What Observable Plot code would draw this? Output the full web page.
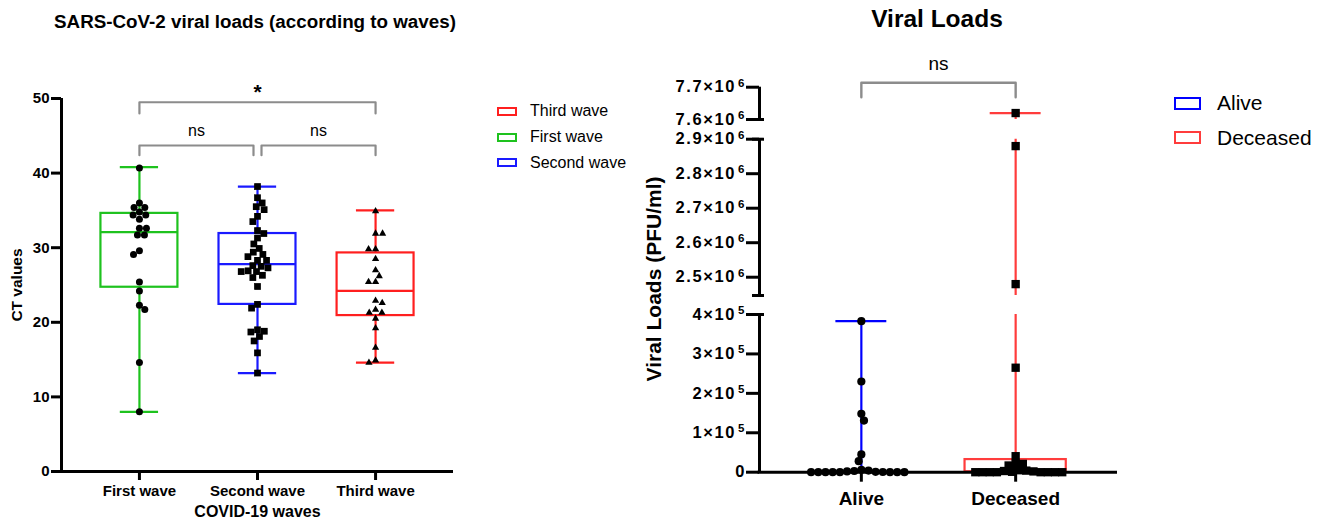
<!DOCTYPE html>
<html><head><meta charset="utf-8">
<script src="https://cdn.jsdelivr.net/npm/d3@7"></script>
<script src="https://cdn.jsdelivr.net/npm/@observablehq/plot@0.6"></script>
<style>
body{margin:0;background:#fff;font-family:"Liberation Sans",Arial,sans-serif;color:#000;}
#root{position:relative;width:1327px;height:526px;overflow:hidden;background:#fff;}
.abs{position:absolute;white-space:nowrap;line-height:1.15;}
.chart{position:absolute;top:0;}
.sw{position:absolute;box-sizing:border-box;}
</style></head><body><div id="root"></div>
<script>
// ---------- DATA: left panel (CT values by COVID-19 wave) ----------
const waves = ["First wave", "Second wave", "Third wave"];
const waveColors = ["#1ec21e", "#1a1aff", "#ff1f1f"];
const waveLegendOrder = ["Third wave", "First wave", "Second wave"];
const firstWave = [40.7, 36.0, 35.4, 35.4, 34.8, 34.4, 34.4, 33.8, 32.6, 32.6, 31.7, 31.7, 29.6, 29.1, 25.4, 24.2, 22.3, 21.7, 14.6, 8.0];
const secondWave = [38.2, 36.7, 36.0, 35.5, 35.1, 34.2, 33.5, 32.3, 31.9, 31.3, 30.5, 29.9, 29.4, 29.1, 28.8, 28.3, 28.3, 27.6, 27.5, 27.3, 26.9, 26.8, 26.8, 26.3, 26.0, 24.8, 22.4, 21.9, 19.0, 18.8, 18.7, 18.1, 17.5, 15.9, 13.2];
const thirdWave = [34.9, 31.9, 31.9, 29.8, 29.8, 28.5, 27.0, 26.2, 25.4, 25.4, 22.9, 22.6, 21.7, 21.3, 21.3, 20.5, 19.2, 16.6, 14.9, 14.6];
const waveQ1 = [24.7, 22.4, 20.9];
const waveMedian = [32.1, 27.8, 24.2];
const waveQ3 = [34.6, 31.9, 29.3];
const waveMin = [8.0, 13.2, 14.6];
const waveMax = [40.8, 38.2, 35.0];
const ctTicks = [0, 10, 20, 30, 40, 50];
const waveComparisons = [["First wave", "Third wave", "*"], ["First wave", "Second wave", "ns"], ["Second wave", "Third wave", "ns"]];

// ---------- DATA: right panel (viral loads by outcome) ----------
const outcomes = ["Alive", "Deceased"];
const outcomeColors = ["#0000ff", "#ff3c3c"];
const aliveLoads = [383000, 230000, 148000, 131000, 45000, 28000, 6000, 4000, 3000, 2000, 1000, 500, 0, 0, 0, 0, 0, 0, 0, 0];
const deceasedLoads = [7620000, 2880000, 2480000, 265000, 40600, 21000, 21000, 17000, 5000, 4000, 3000, 2000, 1000, 0, 0, 0, 0, 0, 0, 0, 0];
const outcomeQ1 = [0, 0];
const outcomeMedian = [0, 2000];
const outcomeQ3 = [0, 32000];
const outcomeMin = [0, 0];
const outcomeMax = [383000, 7620000];
const loadSegments = [[0, 400000], [2447000, 2900000], [7600000, 7700000]];
const loadTicks = [[0, 100000, 200000, 300000, 400000], [2500000, 2600000, 2700000, 2800000, 2900000], [7600000, 7700000]];
const outcomeComparisons = [["Alive", "Deceased", "ns"]];

// ---------- helpers ----------
const FONT = '"Liberation Sans", Arial, sans-serif';
const root = document.getElementById("root");

function dodge(values, toPx, D) {
  const placed = [];
  let s = 1;
  return values.map(v => {
    const y = toPx(v);
    const cands = [0];
    for (const p of placed) {
      const dy = y - p.y;
      if (Math.abs(dy) < D) { const dx = Math.sqrt(D * D - dy * dy); cands.push(p.x + dx, p.x - dx); }
    }
    cands.sort((a, b) => { const d = Math.abs(a) - Math.abs(b); return Math.abs(d) > 1e-6 ? d : s * (b - a); });
    let x = 0;
    for (const c of cands) {
      if (placed.every(p => (c - p.x) ** 2 + (y - p.y) ** 2 >= D * D - 1e-6)) { x = c; break; }
    }
    if (Math.abs(x) > 1e-6) s = -s;
    placed.push({x, y});
    return x;
  });
}
function bracketPath(id, x1, x2, top, leg) {
  return [{id, x: x1, y: leg}, {id, x: x1, y: top}, {id, x: x2, y: top}, {id, x: x2, y: leg}];
}
function addText(text, x, y, css, anchor) {
  const d = document.createElement("div");
  d.className = "abs";
  d.textContent = text;
  d.style.left = x + "px";
  d.style.top = y + "px";
  d.style.transform = anchor || "translate(-50%,-50%)";
  Object.assign(d.style, css || {});
  root.appendChild(d);
  return d;
}
function addSwatch(x, y, w, h, color, bw) {
  const d = document.createElement("div");
  d.className = "sw";
  Object.assign(d.style, {left: x + "px", top: (y - h / 2) + "px", width: w + "px", height: h + "px", border: `${bw}px solid ${color}`});
  root.appendChild(d);
}

// ================= LEFT PANEL =================
const L = {width: 480, x0: 61, x1: 453, y0: 98, y1: 471};
const leftDomain = [0.34, 3.66];
const leftStep = (L.x1 - L.x0) / (leftDomain[1] - leftDomain[0]);
const ctPx = (L.y1 - L.y0) / 50;

const leftPoints = [];
[firstWave, secondWave, thirdWave].forEach((vals, k) => {
  const offs = dodge(vals, v => v * ctPx, 7);
  vals.forEach((v, j) => leftPoints.push({wave: waves[k], pos: k + 1, ct: v, xj: k + 1 + offs[j] / leftStep}));
});
const waveBoxes = waves.map((w, k) => ({wave: w, pos: k + 1, q1: waveQ1[k], median: waveMedian[k], q3: waveQ3[k], min: waveMin[k], max: waveMax[k]}));
const boxHalf = 0.326, capHalf = 0.162;
const boxStyle = {stroke: "wave", strokeWidth: 2.2};

// significance annotation levels (CT units)
const wPos = w => waves.indexOf(w) + 1;
const gap = 4 / leftStep;
const leftAnn = waveComparisons.map(([a, b, lab], i) => {
  const x1 = wPos(a) + (i === 2 ? gap : 0), x2 = wPos(b) - (i === 1 ? gap : 0);
  const top = i === 0 ? 49.5 : 43.7, leg = i === 0 ? 48.0 : 42.4, ty = i === 0 ? 50.9 : 45.6;
  return {id: i, x1, x2, top, leg, ty, label: lab};
});
const leftBracketPts = leftAnn.flatMap(d => bracketPath(d.id, d.x1, d.x2, d.top, d.leg));

const leftChart = Plot.plot({
  width: L.width, height: 526,
  marginLeft: L.x0, marginRight: L.width - L.x1, marginTop: L.y0, marginBottom: 526 - L.y1,
  x: {domain: leftDomain},
  y: {domain: [0, 50]},
  color: {domain: waves, range: waveColors},
  style: {background: "transparent", overflow: "visible", fontFamily: FONT, color: "#000"},
  marks: [
    Plot.rect(waveBoxes, {x1: d => d.pos - boxHalf, x2: d => d.pos + boxHalf, y1: "q1", y2: "q3", fill: "none", ...boxStyle}),
    Plot.ruleY(waveBoxes, {y: "median", x1: d => d.pos - boxHalf, x2: d => d.pos + boxHalf, ...boxStyle}),
    Plot.ruleX(waveBoxes, {x: "pos", y1: "min", y2: "q1", ...boxStyle}),
    Plot.ruleX(waveBoxes, {x: "pos", y1: "q3", y2: "max", ...boxStyle}),
    Plot.ruleY(waveBoxes, {y: "min", x1: d => d.pos - capHalf, x2: d => d.pos + capHalf, ...boxStyle}),
    Plot.ruleY(waveBoxes, {y: "max", x1: d => d.pos - capHalf, x2: d => d.pos + capHalf, ...boxStyle}),
    Plot.dot(leftPoints.filter(d => d.pos === 1), {x: "xj", y: "ct", r: 3.5, symbol: "circle", fill: "black"}),
    Plot.dot(leftPoints.filter(d => d.pos === 2), {x: "xj", y: "ct", r: 3.8, symbol: "square", fill: "black"}),
    Plot.dot(leftPoints.filter(d => d.pos === 3), {x: "xj", y: "ct", r: 2.7, symbol: "triangle", fill: "black"}),
    Plot.ruleX([leftDomain[0]], {y1: 0, y2: 50, strokeWidth: 3, stroke: "black"}),
    Plot.ruleY([0], {x1: leftDomain[0] - 1.5 / leftStep, x2: leftDomain[1], strokeWidth: 3, stroke: "black"}),
    Plot.axisY({ticks: ctTicks, tickSize: 10, tickPadding: 2, strokeWidth: 3, fontSize: 15, fontWeight: "bold", label: null}),
    Plot.axisX({ticks: [1, 2, 3], tickFormat: d => waves[d - 1], tickSize: 9, tickPadding: 5, strokeWidth: 3, fontSize: 15, fontWeight: "bold", label: null}),
    Plot.text(["COVID-19 waves"], {text: d => d, frameAnchor: "bottom", dy: 45, fontSize: 16, fontWeight: "bold"}),
    Plot.line(leftBracketPts, {x: "x", y: "y", z: "id", stroke: "#8c8c8c", strokeWidth: 2.2}),
    Plot.text(leftAnn.filter(d => d.label === "ns"), {x: d => (d.x1 + d.x2) / 2, y: "ty", text: "label", fontSize: 16}),
    Plot.text(leftAnn.filter(d => d.label !== "ns"), {x: d => (d.x1 + d.x2) / 2, y: "ty", text: "label", fontSize: 21, fontWeight: "bold"})
  ]
});
leftChart.classList.add("chart");
leftChart.style.left = "0px";
root.appendChild(leftChart);

// left title, y label and legend
addText("SARS-CoV-2 viral loads (according to waves)", 255, 22, {fontSize: "18.8px", fontWeight: "bold"});
addText("CT values", 17, 285, {fontSize: "15.5px", fontWeight: "bold"}, "translate(-50%,-50%) rotate(-90deg)");
waveLegendOrder.forEach((w, i) => {
  const y = [111, 137.3, 162.7][i];
  addSwatch(497, y, 20, 9, waveColors[waves.indexOf(w)], 2);
  addText(w, 530, y, {fontSize: "16px"}, "translate(0,-50%)");
});

// ================= RIGHT PANEL =================
const R = {left: 640, width: 560, x0: 759, x1: 1117};
const segPx = [[314, 471.7], [138.7, 295], [86.7, 119]];
const rightDomain = [0.34, 2.66];
const rightStep = (R.x1 - R.x0) / (rightDomain[1] - rightDomain[0]);
function loadToPx(v) {
  for (let s = 0; s < loadSegments.length; s++) {
    const [d0, d1] = loadSegments[s];
    if (v >= d0 - 1e-9 && v <= d1 + 1e-9) return segPx[s][1] - (v - d0) / (d1 - d0) * (segPx[s][1] - segPx[s][0]);
  }
  return -1000;
}
const rightPoints = [];
[aliveLoads, deceasedLoads].forEach((vals, k) => {
  const offs = dodge(vals, loadToPx, 7.2);
  vals.forEach((v, j) => rightPoints.push({outcome: outcomes[k], pos: k + 1, load: v, xj: k + 1 + offs[j] / rightStep}));
});
const outcomeBoxes = outcomes.map((o, k) => ({outcome: o, pos: k + 1, q1: outcomeQ1[k], median: outcomeMedian[k], q3: outcomeQ3[k], min: outcomeMin[k], max: outcomeMax[k]}));
const rBox = 0.328, rCap = 0.165;
const rStyle = {stroke: "outcome", strokeWidth: 2.2, clip: true};

function fmtLoad(v) {
  if (v === 0) return "0";
  const e = Math.floor(Math.log10(v) + 1e-9);
  const m = +(v / Math.pow(10, e)).toFixed(1);
  return `${m}×10^${e}`;
}

// annotation in top-segment units
const oPos = o => outcomes.indexOf(o) + 1;
const rightAnn = outcomeComparisons.map(([a, b, lab], i) => ({id: i, x1: oPos(a), x2: oPos(b), top: 7713600, leg: 7669000, ty: 7773000, label: lab}));

loadSegments.forEach((dom, s) => {
  const isBottom = s === 0, isTop = s === loadSegments.length - 1;
  const [pTop, pBot] = segPx[s];
  const caps = [];
  if (!isBottom) caps.push(dom[0]);
  if (!isTop) caps.push(dom[1]);
  const segPts = rightPoints.filter(d => d.load >= dom[0] && d.load <= dom[1]);
  const marks = [
    Plot.rect(outcomeBoxes, {x1: d => d.pos - rBox, x2: d => d.pos + rBox, y1: "q1", y2: "q3", fill: "none", ...rStyle}),
    Plot.ruleY(outcomeBoxes.filter(d => d.median >= dom[0] && d.median <= dom[1]), {y: "median", x1: d => d.pos - rBox, x2: d => d.pos + rBox, ...rStyle}),
    Plot.ruleX(outcomeBoxes, {x: "pos", y1: "q3", y2: "max", ...rStyle}),
    Plot.ruleY(outcomeBoxes.filter(d => d.max >= dom[0] && d.max <= dom[1]), {y: "max", x1: d => d.pos - rCap, x2: d => d.pos + rCap, ...rStyle}),
    Plot.ruleX([rightDomain[0]], {y1: dom[0], y2: dom[1], strokeWidth: 3, stroke: "black"}),
    Plot.ruleY(caps, {x1: rightDomain[0] - 7 / rightStep, x2: rightDomain[0] + 5 / rightStep, strokeWidth: 3, stroke: "black"}),
    Plot.axisY({ticks: loadTicks[s], tickFormat: fmtLoad, tickSize: 13, tickPadding: 2, strokeWidth: 3, fontSize: 16.5, fontWeight: "bold", label: null})
  ];
  if (isBottom) {
    marks.push(
      Plot.ruleY([0], {x1: rightDomain[0] - 1.5 / rightStep, x2: rightDomain[1], strokeWidth: 3, stroke: "black"}),
      Plot.axisX({ticks: [1, 2], tickFormat: d => outcomes[d - 1], tickSize: 10, tickPadding: 9, strokeWidth: 3, fontSize: 19, fontWeight: "bold", label: null})
    );
  }
  marks.push(
    Plot.dot(segPts.filter(d => d.pos === 1), {x: "xj", y: "load", r: 4.1, symbol: "circle", fill: "black"}),
    Plot.dot(segPts.filter(d => d.pos === 2), {x: "xj", y: "load", r: 4.7, symbol: "square", fill: "black"})
  );
  if (isTop) {
    marks.push(
      Plot.line(rightAnn.flatMap(d => bracketPath(d.id, d.x1, d.x2, d.top, d.leg)), {x: "x", y: "y", z: "id", stroke: "#8c8c8c", strokeWidth: 2.4}),
      Plot.text(rightAnn, {x: d => (d.x1 + d.x2) / 2, y: "ty", text: "label", fontSize: 19})
    );
  }
  const chart = Plot.plot({
    width: R.width, height: 526,
    marginLeft: R.x0 - R.left, marginRight: R.left + R.width - R.x1, marginTop: pTop, marginBottom: 526 - pBot,
    x: {domain: rightDomain, axis: isBottom ? undefined : null},
    y: {domain: dom},
    color: {domain: outcomes, range: outcomeColors},
    style: {background: "transparent", overflow: "visible", fontFamily: FONT, color: "#000"},
    marks
  });
  // superscript exponents
  d3.select(chart).selectAll("text").each(function () {
    const t = this.textContent;
    const m = t.match(/^(.*)\^(\d+)$/);
    if (m) {
      this.textContent = "";
      const sel = d3.select(this);
      sel.append("tspan").attr("letter-spacing", "1.6").text(m[1]);
      sel.append("tspan").attr("dx", "2").attr("dy", "-0.5em").attr("font-size", "0.7em").text(m[2]);
    }
  });
  chart.classList.add("chart");
  chart.style.left = R.left + "px";
  root.appendChild(chart);
});

// right title, y label, legend
addText("Viral Loads", 937, 19, {fontSize: "24.5px", fontWeight: "bold"});
addText("Viral Loads (PFU/ml)", 654, 279, {fontSize: "21px", fontWeight: "bold"}, "translate(-50%,-50%) rotate(-90deg)");
outcomes.forEach((o, i) => {
  const y = [103.3, 137.7][i];
  addSwatch(1174, y, 27, 13, outcomeColors[i], 2.5);
  addText(o, 1217, y, {fontSize: "21px"}, "translate(0,-50%)");
});
</script>
</body></html>
